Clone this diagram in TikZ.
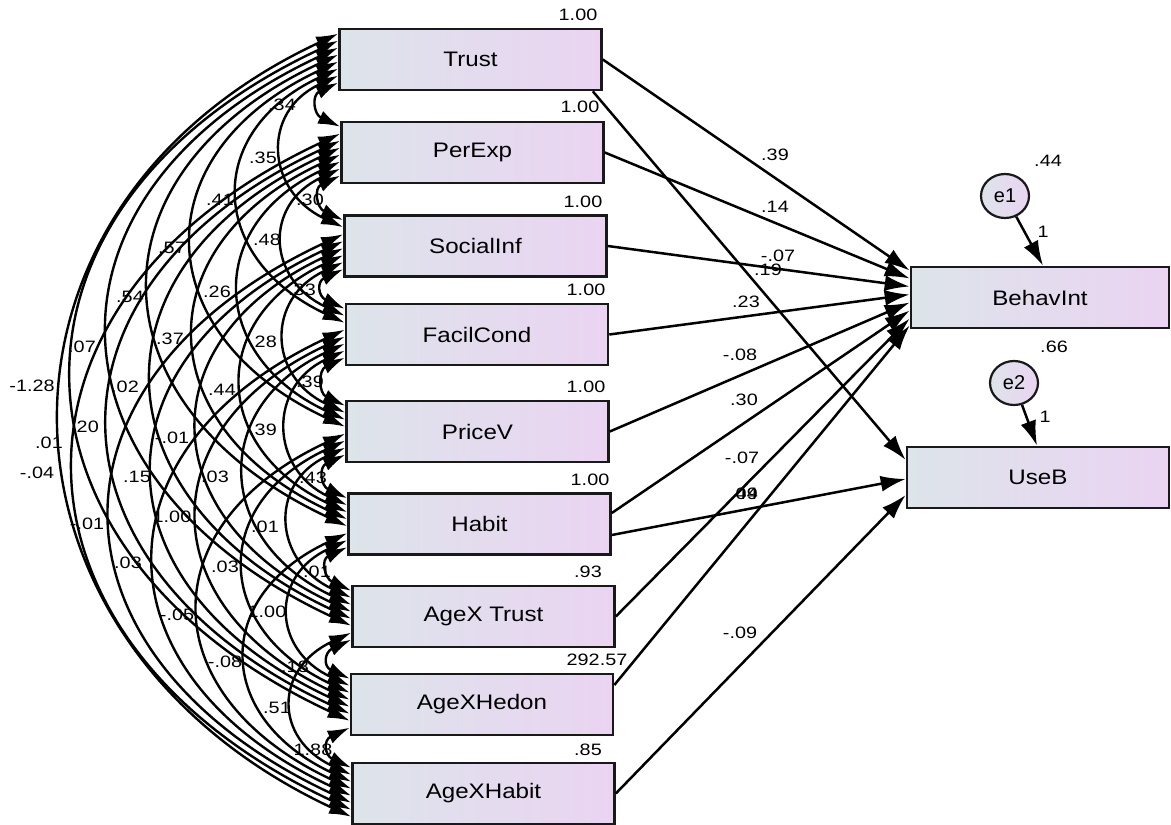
\documentclass[tikz,border=0pt]{standalone}
\usepackage{graphicx}
\usepackage{fontspec}
\setmainfont{Liberation Sans}
\usetikzlibrary{arrows.meta,calc,shapes.geometric}
\definecolor{boxL}{RGB}{221,228,234}
\definecolor{boxR}{RGB}{234,212,242}
\definecolor{edge}{RGB}{25,25,25}
\newcommand\wn[1]{\scalebox{1.15}[1]{#1}}
\newcommand\wv[1]{\scalebox{1.2}[1]{#1}}
\tikzset{
  varbox/.style={draw=edge, line width=2.6pt, left color=boxL, right color=boxR,
    minimum width=262pt, minimum height=61pt, inner sep=0pt,
    font=\fontsize{21}{25}\selectfont},
  errnode/.style={ellipse, draw=edge, line width=2.2pt, left color=boxL, right color=boxR,
    minimum width=48pt, minimum height=44pt, inner sep=0pt,
    font=\fontsize{20}{23}\selectfont},
  reg/.style={line width=2.5pt, -{Latex[length=25pt,width=16pt]}},
  cov/.style={line width=2.4pt, {Latex[length=22pt,width=14pt]}-{Latex[length=22pt,width=14pt]}},
  num/.style={font=\fontsize{16.5}{19}\selectfont, inner sep=0pt},
}
\begin{document}
\begin{tikzpicture}[x=1pt,y=-1pt]
\useasboundingbox (0,0) rectangle (1171,825);
% exogenous boxes
\node[varbox] (b1) at (470.5,59.5)  {\wn{Trust}};
\node[varbox] (b2) at (472.5,152.5) {\wn{PerExp}};
\node[varbox] (b3) at (475.5,246)   {\wn{SocialInf}};
\node[varbox] (b4) at (477,334.5)   {\wn{FacilCond}};
\node[varbox] (b5) at (477.5,431.5) {\wn{PriceV}};
\node[varbox] (b6) at (479.5,524)   {\wn{Habit}};
\node[varbox] (b7) at (483.5,616.5) {\wn{AgeX Trust}};
\node[varbox] (b8) at (482,704.5)   {\wn{AgeXHedon}};
\node[varbox] (b9) at (483.5,793.5) {\wn{AgeXHabit}};
% endogenous
\node[varbox, minimum width=258pt] (bi) at (1040,297.5) {\wn{BehavInt}};
\node[varbox] (ub) at (1038,477.5) {\wn{UseB}};
\node[errnode] (e1) at (1005,196) {e1};
\node[errnode] (e2) at (1014,383) {e2};
% variances
\node[num] (v1) at (578,15)  {\wv{1.00}};
\node[num] (v2) at (580,107) {\wv{1.00}};
\node[num] (v3) at (583,202) {\wv{1.00}};
\node[num] (v4) at (586,290) {\wv{1.00}};
\node[num] (v5) at (586,387) {\wv{1.00}};
\node[num] (v6) at (590,480) {\wv{1.00}};
\node[num] (v7) at (588,572) {\wv{.93}};
\node[num] (v8) at (597,660) {\wv{292.57}};
\node[num] (v9) at (588,750) {\wv{.85}};
\node[num] (ve1) at (1048,161) {\wv{.44}};
\node[num] (ve2) at (1054,347) {\wv{.66}};
% covariances
\foreach \i in {1,...,8}{
  \pgfmathtruncatemacro\ip{\i+1}
  \foreach \j in {\ip,...,9}{
    \pgfmathtruncatemacro\ki{(\i-1)+(9-\j)}
    \pgfmathtruncatemacro\kj{\j-\i-1}
    \pgfmathtruncatemacro\dd{\j-\i}
    \pgfmathsetmacro\sg{{20,58,102,148,192,235,270,283}[\dd-1]}
    \pgfmathsetmacro\hh{\sg/0.75}
    \pgfmathsetmacro\vv{\hh*0.466}
    \coordinate (ca\i\j) at ($(b\i.north west)+(0,6+\ki*7)$);
    \coordinate (cb\i\j) at ($(b\j.north west)+(0,6+\kj*7)$);
    \draw[cov] (ca\i\j) .. controls +(-\hh,\vv) and +(-\hh,-\vv) .. (cb\i\j);
  }
}
% covariance labels
\foreach \t/\px/\py [count=\n] in {
 .34/282/105, .35/263/158, .41/220/200, .30/310/200, .48/267/240, .57/172/248,
 .54/130/297, .26/217/292, .33/302/290, .07/82/347, .37/170/339, .28/263/342,
 -1.28/32/386, .02/125/387, .44/222/390, .39/310/382, .20/85/427, .01/49/443,
 -.01/172/438, .39/263/430, -.04/37/473, .15/137/477, .03/215/477, .43/313/478,
 1.00/172/517, -.01/87/524, .01/265/527, .03/128/563, .03/225/567, .01/317/572,
 -.05/177/615, 1.00/267/612, -.08/225/662, .18/295/667, .51/277/708, 1.88/313/750}{
  \node[num] (cl\n) at (\px,\py) {\wv{\t}};
}
% regression end points
\coordinate (t1) at ($(bi.west)+(0,-27)$);
\coordinate (t2) at ($(bi.west)+(0,-19)$);
\coordinate (t3) at ($(bi.west)+(0,-11)$);
\coordinate (t4) at ($(bi.west)+(0,-3)$);
\coordinate (t5) at ($(bi.west)+(0,5)$);
\coordinate (t6) at ($(bi.west)+(0,13)$);
\coordinate (t7) at ($(bi.west)+(0,21)$);
\coordinate (t8) at ($(bi.west)+(0,28)$);
\coordinate (u1) at ($(ub.west)+(0,-17.5)$);
\coordinate (u2) at ($(ub.west)+(0,1.5)$);
\coordinate (u3) at ($(ub.west)+(0,17.5)$);
\coordinate (s1b) at ($(b1.south east)+(-10,0)$);
\coordinate (s6a) at ($(b6.east)+(0,-11)$);
\coordinate (s6b) at ($(b6.east)+(0,11)$);
\coordinate (s8) at ($(b8.east)+(0,-19.5)$);
\coordinate (te1) at ($(bi.north)+(3,0)$);
\coordinate (te2) at ($(ub.north)+(-1,0)$);
\draw[reg] (b1.east) -- (t1);
\draw[reg] (s1b) -- (u1);
\draw[reg] (b2.east) -- (t2);
\draw[reg] (b3.east) -- (t3);
\draw[reg] (b4.east) -- (t4);
\draw[reg] (b5.east) -- (t5);
\draw[reg] (s6a) -- (t6);
\draw[reg] (s6b) -- (u2);
\draw[reg] (b7.east) -- (t7);
\draw[reg] (s8) -- (t8);
\draw[reg] (b9.east) -- (u3);
\draw[reg] (e1) -- (te1);
\draw[reg] (e2) -- (te2);
% path labels
\node[num] (p1) at (775,155) {\wv{.39}};
\node[num] (p2) at (775,207) {\wv{.14}};
\node[num] (p3) at (778,256) {\wv{-.07}};
\node[num] (p4) at (768,270) {\wv{.19}};
\node[num] (p5) at (746,302) {\wv{.23}};
\node[num] (p6) at (740,355) {\wv{-.08}};
\node[num] (p7) at (744,400) {\wv{.30}};
\node[num] (p8) at (742,458) {\wv{-.07}};
\node[num] (p9) at (744,494) {\wv{.09}};
\node[num] (p10) at (744,494) {\wv{.44}};
\node[num] (p11) at (740,633) {\wv{-.09}};
\node[num] (w1) at (1043,232) {\wv{1}};
\node[num] (w2) at (1045,417) {\wv{1}};
\end{tikzpicture}
\end{document}
